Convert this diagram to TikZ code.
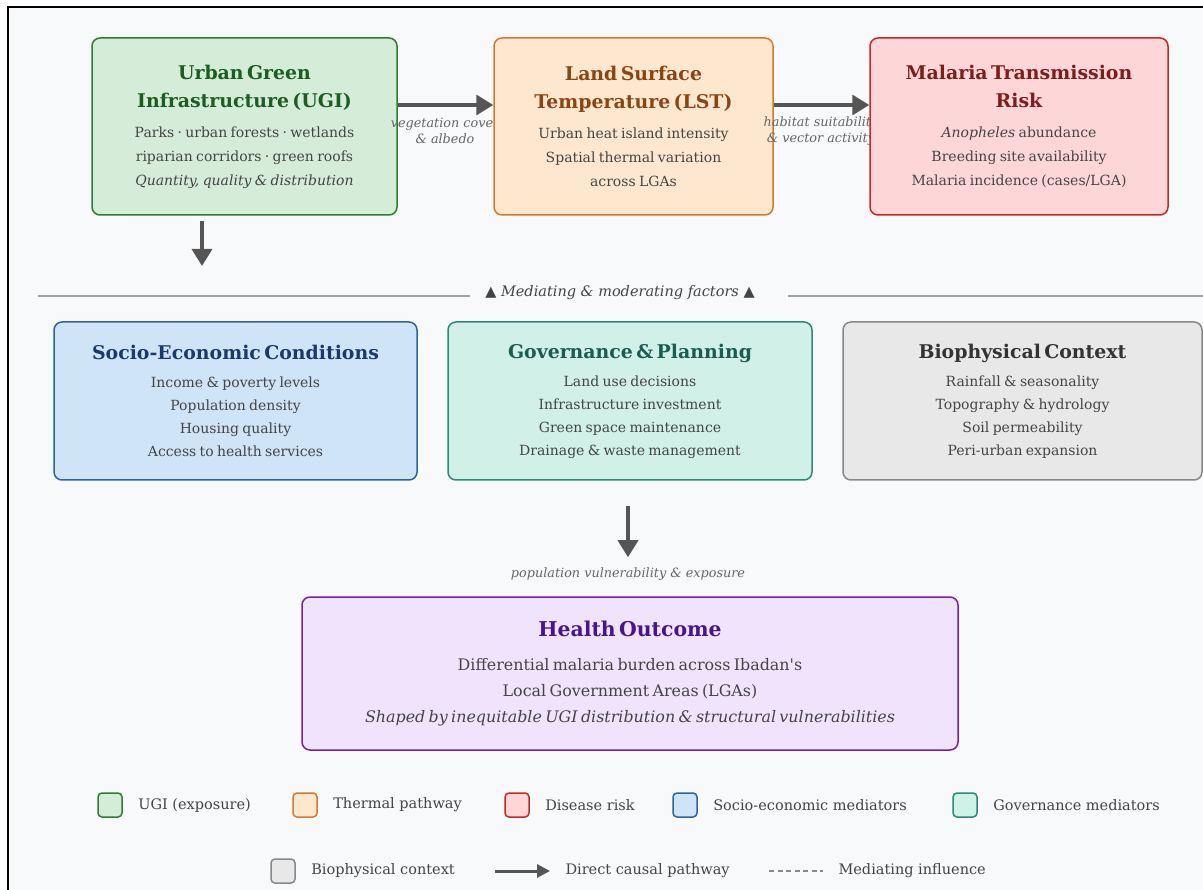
\documentclass[tikz,border=0pt]{standalone}
\usepackage{fontspec}
\setmainfont{DejaVu Serif}
\newfontfamily\symbolfont{DejaVu Sans}
\usetikzlibrary{arrows.meta,positioning}

\definecolor{pagebg}{HTML}{F8F9FA}
\definecolor{ink}{HTML}{444444}
\definecolor{arrowgray}{HTML}{555555}
\definecolor{notegray}{HTML}{666666}
\definecolor{rulegray}{HTML}{A0A0A0}
\definecolor{dashgray}{HTML}{888888}
\definecolor{ugifill}{HTML}{D5ECD9}
\definecolor{ugiline}{HTML}{2E7D32}
\definecolor{ugititle}{HTML}{1B5E20}
\definecolor{lstfill}{HTML}{FDE8CF}
\definecolor{lstline}{HTML}{D9782D}
\definecolor{lsttitle}{HTML}{8B4513}
\definecolor{riskfill}{HTML}{FDD7D7}
\definecolor{riskline}{HTML}{C62828}
\definecolor{risktitle}{HTML}{7F1D1D}
\definecolor{sociofill}{HTML}{D0E4F7}
\definecolor{socioline}{HTML}{2B65A3}
\definecolor{sociotitle}{HTML}{1A3A6B}
\definecolor{govfill}{HTML}{D0F0E8}
\definecolor{govline}{HTML}{2A8A78}
\definecolor{govtitle}{HTML}{1A5C50}
\definecolor{biofill}{HTML}{E8E8E8}
\definecolor{bioline}{HTML}{888888}
\definecolor{biotitle}{HTML}{333333}
\definecolor{healthfill}{HTML}{F0E4FC}
\definecolor{healthline}{HTML}{7B1FA2}
\definecolor{healthtitle}{HTML}{4A148C}

\def\titlefont{\fontsize{18.9}{28}\selectfont\bfseries}
\def\bodyfont{\fontsize{14}{24}\selectfont}
\def\notefont{\fontsize{12.8}{16}\selectfont\itshape}

\begin{document}
\begin{tikzpicture}[x=1pt, y=-1pt,
    panel/.style={rounded corners=8pt, line width=1.5pt, inner sep=0pt, align=center},
    causal/.style={draw=arrowgray, line width=3.5pt, -{Triangle[length=17pt,width=20pt]}},
    note/.style={text=notegray, font=\notefont, align=center},
    swatch/.style={rounded corners=4pt, line width=1.5pt, minimum size=24pt, inner sep=0pt},
    legtext/.style={text=ink, font=\fontsize{14.5}{17}\selectfont}]

    \useasboundingbox (0,0) rectangle (1203,890);
    \fill[white] (0,0) rectangle (1203,890);
    \fill[pagebg] (8,8) rectangle (1203,890);
    \draw[line width=2pt] (7.5,890) -- (7.5,7.5) -- (1203,7.5);

    % top row: exposure -> thermal -> disease
    \node[panel, fill=ugifill, draw=ugiline, minimum width=305pt, minimum height=177pt, text width=290pt] (ugi) at (244.5,126.5)
      {{\titlefont\color{ugititle}Urban Green\\Infrastructure (UGI)\par}\vspace{6pt}
       {\bodyfont\color{ink}Parks · urban forests · wetlands\\riparian corridors · green roofs\\\textit{Quantity, quality \& distribution}\par}\vspace{3pt}};
    \node[note] (vegnote) at (445,131) {vegetation cover\\\& albedo};
    \node[panel, fill=lstfill, draw=lstline, minimum width=279pt, minimum height=177pt, text width=265pt] (lst) at (633.5,126.5)
      {{\titlefont\color{lsttitle}Land Surface\\Temperature (LST)\par}\vspace{6pt}
       {\bodyfont\color{ink}Urban heat island intensity\\Spatial thermal variation\\across LGAs\par}\vspace{3pt}};
    \node[note] (habnote) at (821,131) {habitat suitability\\\& vector activity};
    \node[panel, fill=riskfill, draw=riskline, minimum width=298pt, minimum height=177pt, text width=284pt] (risk) at (1019,126.5)
      {{\titlefont\color{risktitle}Malaria Transmission\\Risk\par}\vspace{6pt}
       {\bodyfont\color{ink}\textit{Anopheles} abundance\\Breeding site availability\\Malaria incidence (cases/LGA)\par}\vspace{3pt}};

    \draw[causal] ([yshift=21.5pt]ugi.east) -- ([yshift=21.5pt]lst.west);
    \draw[causal] ([yshift=21.5pt]lst.east) -- ([yshift=21.5pt]risk.west);

    \coordinate (ugidown) at (202,266);
    \draw[causal] ([xshift=-42.5pt,yshift=-5pt]ugi.south) -- (ugidown);

    % divider
    \node[text=ink, font=\fontsize{14.5}{17}\selectfont\itshape] (mediate) at (620,293)
      {{\symbolfont ▲} Mediating \& moderating factors {\symbolfont ▲}};
    \coordinate (ruleL) at (38,296);
    \coordinate (ruleR) at (1203,296);
    \draw[rulegray, line width=1.2pt] (ruleL) -- (470,296);
    \draw[rulegray, line width=1.2pt] (788,296) -- (ruleR);

    % mediators
    \node[panel, fill=sociofill, draw=socioline, minimum width=363pt, minimum height=158pt, text width=348pt] (socio) at (235.5,401)
      {{\titlefont\color{sociotitle}Socio-Economic Conditions\par}\vspace{5pt}
       {\bodyfont\linespread{0.96}\selectfont\color{ink}Income \& poverty levels\\Population density\\Housing quality\\Access to health services\par}};
    \node[panel, fill=govfill, draw=govline, minimum width=364pt, minimum height=158pt, text width=348pt] (gov) at (630,401)
      {{\titlefont\color{govtitle}Governance \& Planning\par}\vspace{5pt}
       {\bodyfont\linespread{0.96}\selectfont\color{ink}Land use decisions\\Infrastructure investment\\Green space maintenance\\Drainage \& waste management\par}};
    \node[panel, fill=biofill, draw=bioline, minimum width=359pt, minimum height=158pt, text width=344pt] (bio) at (1022.5,401)
      {{\titlefont\color{biotitle}Biophysical Context\par}\vspace{5pt}
       {\bodyfont\linespread{0.96}\selectfont\color{ink}Rainfall \& seasonality\\Topography \& hydrology\\Soil permeability\\Peri-urban expansion\par}};

    % outcome
    \node[panel, fill=healthfill, draw=healthline, minimum width=656pt, minimum height=153pt, text width=640pt] (health) at (630,673.5)
      {{\fontsize{20.4}{28}\selectfont\bfseries\color{healthtitle}Health Outcome\par}\vspace{8pt}
       {\fontsize{15.9}{26}\selectfont\color{ink}Differential malaria burden across Ibadan\textquotesingle s\\Local Government Areas (LGAs)\\\textit{Shaped by inequitable UGI distribution \& structural vulnerabilities}\par}};
    \draw[causal] ([xshift=-2pt,yshift=-25pt]gov.south) -- ([xshift=-2pt,yshift=39pt]health.north);
    \node[note] (popnote) at (628,574) {population vulnerability \& exposure};

    % legend
    \node[swatch, fill=ugifill, draw=ugiline] (keyugi) at (110,805) {};
    \node[legtext, right=12pt of keyugi] {UGI (exposure)};
    \node[swatch, fill=lstfill, draw=lstline] (keylst) at (305,805) {};
    \node[legtext, right=12pt of keylst] {Thermal pathway};
    \node[swatch, fill=riskfill, draw=riskline] (keyrisk) at (517,805) {};
    \node[legtext, right=12pt of keyrisk] {Disease risk};
    \node[swatch, fill=sociofill, draw=socioline] (keysocio) at (685,805) {};
    \node[legtext, right=12pt of keysocio] {Socio-economic mediators};
    \node[swatch, fill=govfill, draw=govline] (keygov) at (965,805) {};
    \node[legtext, right=12pt of keygov] {Governance mediators};

    \node[swatch, fill=biofill, draw=bioline] (keybio) at (283,871) {};
    \node[legtext, right=12pt of keybio] {Biophysical context};
    \coordinate (keyarrowA) at (495,871);
    \coordinate (keyarrowB) at (550,871);
    \draw[draw=arrowgray, line width=3pt, -{Triangle[length=13pt,width=13pt]}] (keyarrowA) -- (keyarrowB);
    \node[legtext, right=12pt of keyarrowB] {Direct causal pathway};
    \coordinate (keydashA) at (769,871);
    \coordinate (keydashB) at (823,871);
    \draw[dashgray, line width=1.3pt, dash pattern=on 5pt off 3.5pt] (keydashA) -- (keydashB);
    \node[legtext, right=12pt of keydashB] {Mediating influence};

\end{tikzpicture}
\end{document}
